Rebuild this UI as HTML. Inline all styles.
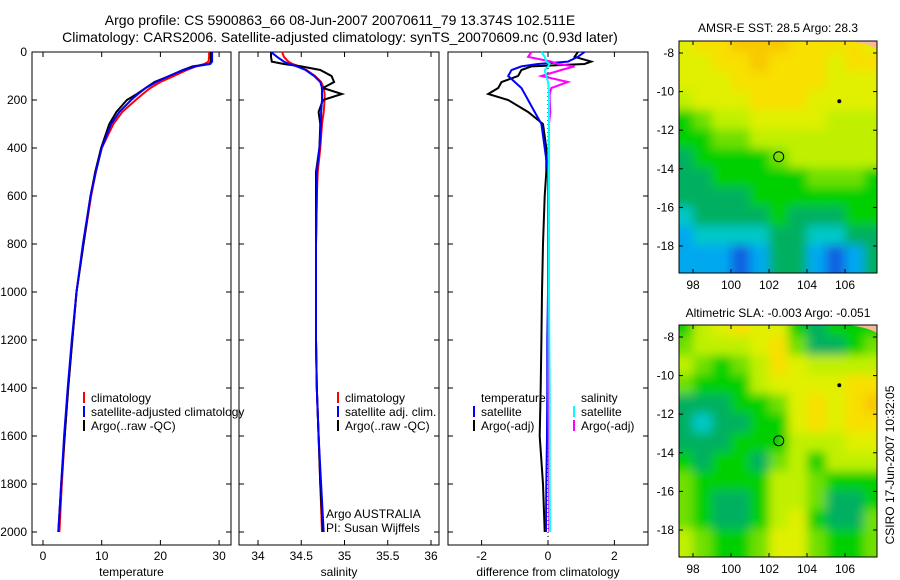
<!DOCTYPE html>
<html><head><meta charset="utf-8"><style>
body{margin:0;background:#fff;}
svg{display:block;font-family:"Liberation Sans",sans-serif;}
text{font-size:12px;fill:#000;}
</style></head><body>
<svg id="fig" width="900" height="580" viewBox="0 0 900 580">
<defs><filter id="smooth" x="-10%" y="-10%" width="120%" height="120%"><feGaussianBlur stdDeviation="5"/></filter></defs>
<text x="340" y="25" text-anchor="middle" style="font-size:14px">Argo profile: CS 5900863_66 08-Jun-2007 20070611_79 13.374S 102.511E</text>
<text x="340" y="42" text-anchor="middle" style="font-size:14px">Climatology: CARS2006. Satellite-adjusted climatology: synTS_20070609.nc (0.93d later)</text>
<text x="778" y="32" text-anchor="middle">AMSR-E SST: 28.5 Argo: 28.3</text>
<text x="778" y="317" text-anchor="middle">Altimetric SLA: -0.003 Argo: -0.051</text>
<text transform="translate(894,465) rotate(-90)" text-anchor="middle">CSIRO 17-Jun-2007 10:32:05</text>
<g id="layer"></g>
</svg>
<script>
// ---- profile data ----
const depths = [0,20,40,50,60,75,100,125,150,175,200,250,300,400,500,600,800,1000,1200,1400,1600,1800,2000];
const tempClim = [28.3,28.3,28.2,27.5,26.0,24.5,22.3,20.0,18.3,17.0,15.8,13.5,12.0,10.0,9.0,8.2,6.9,5.7,5.0,4.3,3.7,3.2,2.8];
const tempSat  = [28.8,28.8,28.8,28.5,26.0,24.0,21.5,19.3,17.5,16.2,15.0,13.0,11.6,10.0,9.0,8.1,6.8,5.7,4.9,4.2,3.6,3.1,2.6];
const tempArgo = [28.6,28.6,28.6,28.4,25.5,23.8,21.5,19.0,17.5,16.0,14.3,12.5,11.3,9.9,8.9,8.1,6.9,5.7,5.0,4.3,3.7,3.1,2.6];
const salClim = [34.28,34.3,34.35,34.4,34.48,34.56,34.66,34.73,34.76,34.77,34.77,34.76,34.74,34.72,34.69,34.68,34.67,34.67,34.67,34.68,34.7,34.72,34.74];
const salSat  = [34.15,34.22,34.3,34.36,34.45,34.55,34.65,34.72,34.74,34.74,34.74,34.73,34.73,34.71,34.68,34.68,34.67,34.67,34.67,34.68,34.7,34.73,34.76];
const salArgo = [34.15,34.15,34.16,34.3,34.5,34.72,34.85,34.88,34.75,34.97,34.75,34.7,34.72,34.71,34.67,34.67,34.67,34.67,34.67,34.68,34.7,34.72,34.75];
const dTempSat  = [1.1,0.9,0.6,-0.3,-0.8,-1.1,-1.2,-1.0,-0.8,-0.7,-0.6,-0.4,-0.2,-0.1,0,0,0,0,-0.02,-0.02,-0.03,-0.05,-0.06];
const dTempArgo = [0.9,0.8,1.3,1.1,-0.5,-0.8,-0.9,-1.4,-1.5,-1.8,-1.2,-0.6,-0.15,-0.05,-0.05,-0.1,-0.15,-0.18,-0.2,-0.22,-0.25,-0.15,-0.1];
const dSalSat  = [-0.2,-0.1,-0.05,0.05,0.0,-0.1,-0.05,0.0,0.02,0.03,0.03,0.03,0.03,0.03,0.03,0.03,0.03,0.03,0.04,0.05,0.05,0.05,0.06];
const dSalArgo = [-0.5,-0.6,0.1,0.3,0.8,0.4,-0.2,0.6,0.1,0.05,0.05,0.07,0.03,0.02,0.0,0.0,0.0,0.0,0.0,0.0,0.02,0.03,0.04];
const xTicks1 = [0,10,20,30], xTicks2=[34,34.5,35,35.5,36], xTicks3=[-2,0,2];
const yTicks = [0,200,400,600,800,1000,1200,1400,1600,1800,2000];
// ---- map data (palette index per 1° cell, rows from -8 southward) ----
const sstGrid = [
[7,8,8,9,9,9,8,8,8,8,7],[7,7,8,8,9,8,8,8,7,8,8],[7,7,7,8,8,8,8,8,7,7,7],[6,7,7,7,8,8,8,7,7,7,7],
[4,5,6,6,7,7,7,7,6,6,6],[4,4,5,5,6,6,6,6,6,6,6],[3,4,4,4,4,5,6,6,6,6,6],[3,3,4,4,4,4,4,5,5,5,4],
[3,3,3,3,4,4,4,4,4,4,4],[2,3,3,3,3,4,3,3,3,4,4],[1,2,2,2,2,3,3,2,2,3,3],[1,1,1,0,1,3,3,1,0,1,3]];
const slaGrid = [
[4,6,7,8,7,7,4,3,4,4,4],[5,6,6,6,7,8,5,3,3,4,5],[6,5,4,5,6,8,7,6,6,6,6],[5,4,4,4,6,7,7,7,7,8,8],
[3,3,3,4,4,5,7,8,7,8,9],[3,2,3,3,4,4,7,8,7,8,8],[3,3,3,4,4,4,6,6,6,7,7],[4,3,4,4,3,5,6,4,6,6,6],
[5,4,4,4,4,6,6,5,4,4,4],[5,4,3,3,4,6,6,5,3,3,4],[5,4,3,3,4,6,7,4,3,3,5],[6,5,4,4,5,7,7,5,4,4,5]];
const palette = ['#1060e0','#00a8f0','#00c8c8','#00b060','#00d000','#70e000','#c0f000','#e0f000','#f8e000','#f8c800'];
const lonTicks=[98,100,102,104,106], latTicks=[-8,-10,-12,-14,-16,-18];
const floatPos=[102.511,-13.374], starPos=[105.7,-10.5];

const NS='http://www.w3.org/2000/svg';
const layer=document.getElementById('layer');
function mk(tag,attrs,parent){const e=document.createElementNS(NS,tag);for(const k in attrs)e.setAttribute(k,attrs[k]);(parent||layer).appendChild(e);return e;}
const yD=d=>52+d*0.24;
const AX_TOP=52,AX_BOT=545;
const panels=[
 {l:32,r:231,x0:43,sc:5.87,v0:0,ticks:xTicks1,label:'temperature',name:'temperature-panel'},
 {l:239,r:439,x0:258,sc:86.5,v0:34,ticks:xTicks2,label:'salinity',name:'salinity-panel'},
 {l:448,r:648,x0:548,sc:33.2,v0:0,ticks:xTicks3,label:'difference from climatology',name:'difference-panel'}];
function xf(p){return v=>p.x0+(v-p.v0)*p.sc;}
panels.forEach((p,i)=>{
 const g=mk('g',{});
 
 
 mk('rect',{x:p.l,y:AX_TOP,width:p.r-p.l,height:AX_BOT-AX_TOP,fill:'none',stroke:'#000','stroke-width':1},g);
 const X=xf(p);
 p.ticks.forEach(t=>{const x=X(t);
  mk('line',{x1:x,x2:x,y1:AX_BOT,y2:AX_BOT-5,stroke:'#000'},g);mk('line',{x1:x,x2:x,y1:AX_TOP,y2:AX_TOP+5,stroke:'#000'},g);
  const tx=mk('text',{x:x,y:AX_BOT+15,'text-anchor':'middle'},g);tx.textContent=String(t);
  
  });
 yTicks.forEach(d=>{const y=yD(d);
  mk('line',{x1:p.l,x2:p.l+5,y1:y,y2:y,stroke:'#000'},g);mk('line',{x1:p.r,x2:p.r-5,y1:y,y2:y,stroke:'#000'},g);
  if(i==0){const tx=mk('text',{x:p.l-5,y:y+4,'text-anchor':'end'},g);tx.textContent=String(d);
   
   }});
 const lb=mk('text',{x:(p.l+p.r)/2,y:AX_BOT+31,'text-anchor':'middle'},g);lb.textContent=p.label;
 
 
});
function line(p,vals,color,w,name){const X=xf(p);
 const pts=vals.map((v,k)=>X(v).toFixed(1)+','+yD(depths[k]).toFixed(1)).join(' ');
 const e=mk('polyline',{points:pts,fill:'none',stroke:color,'stroke-width':w});
 
 }
const zl=mk('line',{x1:548,x2:548,y1:AX_TOP,y2:AX_BOT,stroke:'#000','stroke-dasharray':'1,3'});


line(panels[0],tempClim,'#f00',2,'temp-climatology-line');
line(panels[0],tempArgo,'#000',2,'temp-argo-line');
line(panels[0],tempSat,'#00f',2,'temp-satellite-line');
line(panels[1],salClim,'#f00',2,'sal-climatology-line');
line(panels[1],salArgo,'#000',2,'sal-argo-line');
line(panels[1],salSat,'#00f',2,'sal-satellite-line');
line(panels[2],dTempArgo,'#000',2,'dtemp-argo-line');
line(panels[2],dTempSat,'#00f',2,'dtemp-satellite-line');
line(panels[2],dSalArgo,'#f0f',2,'dsal-argo-line');
line(panels[2],dSalSat,'#0ff',2,'dsal-satellite-line');
function leg(x,y,color,txt,name){
 if(color){const m=mk('line',{x1:x,x2:x,y1:y-10,y2:y+1,stroke:color,'stroke-width':2});
  
  }
 const t=mk('text',{x:x+(color?7:0),y:y});t.textContent=txt;
 
 }
leg(84,402,'#f00','climatology','legend-climatology');
leg(84,416,'#00f','satellite-adjusted climatology','legend-satellite');
leg(84,430,'#000','Argo(..raw -QC)','legend-argo');
leg(338,402,'#f00','climatology','legend2-climatology');
leg(338,416,'#00f','satellite adj. clim.','legend2-satellite');
leg(338,430,'#000','Argo(..raw -QC)','legend2-argo');
leg(326,518,null,'Argo AUSTRALIA','argo-australia-label');
leg(326,532,null,'PI: Susan Wijffels','pi-label');
leg(481,402,null,'temperature','legend3-temp-header');
leg(474,416,'#00f','satellite','legend3-temp-satellite');
leg(474,430,'#000','Argo(-adj)','legend3-temp-argo');
leg(581,402,null,'salinity','legend3-sal-header');
leg(574,416,'#0ff','satellite','legend3-sal-satellite');
leg(574,430,'#f0f','Argo(-adj)','legend3-sal-argo');
function map(top0,grid,name){
 const L=679,R=877,H=232;const lonX=v=>693+(v-98)*19.0;const latY=v=>top0+12+(-8-v)*19.3;
 const g=mk('g',{});
 
 
 const cid='clip'+top0;const cp=mk('clipPath',{id:cid},g);mk('rect',{x:L,y:top0,width:R-L,height:H},cp);
 const cg=mk('g',{'clip-path':'url(#'+cid+')'},g);
 const bg=mk('g',{filter:'url(#smooth)'},cg);
 const nr=grid.length, nc=grid[0].length;
 grid.forEach((row,r)=>row.forEach((v,c)=>{
  const lon=97.5+c, lat=-7.5-r;
  let x=lonX(lon-0.5), y=latY(lat+0.5)-1, w=20, h=21;
  if(c==0){x-=25;w+=25;} if(c==nc-1){w+=30;}
  if(r==0){y-=25;h+=25;} if(r==nr-1){h+=35;}
  const cell=mk('rect',{x:x,y:y,width:w,height:h,fill:palette[v]},bg);
  
  }));
 mk('path',{d:`M${R-30},${top0} L${R},${top0} L${R},${top0+8} Q${R-10},${top0+2} ${R-30},${top0}Z`,fill:'#f8b898'},cg);
 mk('rect',{x:L,y:top0,width:R-L,height:H,fill:'none',stroke:'#000'},g);
 lonTicks.forEach(t=>{const x=lonX(t);mk('line',{x1:x,x2:x,y1:top0+H,y2:top0+H-4,stroke:'#000'},g);mk('line',{x1:x,x2:x,y1:top0,y2:top0+4,stroke:'#000'},g);
  const tx=mk('text',{x:x,y:top0+H+16,'text-anchor':'middle'},g);tx.textContent=String(t);
  
  });
 latTicks.forEach(t=>{const y=latY(t);mk('line',{x1:L,x2:L+4,y1:y,y2:y,stroke:'#000'},g);mk('line',{x1:R,x2:R-4,y1:y,y2:y,stroke:'#000'},g);
  const tx=mk('text',{x:L-5,y:y+4,'text-anchor':'end'},g);tx.textContent=String(t);
  
  });
 const c=mk('circle',{cx:lonX(floatPos[0]),cy:latY(floatPos[1]),r:5,fill:'none',stroke:'#000'},g);
 
 
 const s=mk('circle',{cx:lonX(starPos[0]),cy:latY(starPos[1]),r:2,fill:'#000'},g);
 
 
}
map(41,sstGrid,'sst-map');
map(325,slaGrid,'sla-map');
</script>
</body></html>
